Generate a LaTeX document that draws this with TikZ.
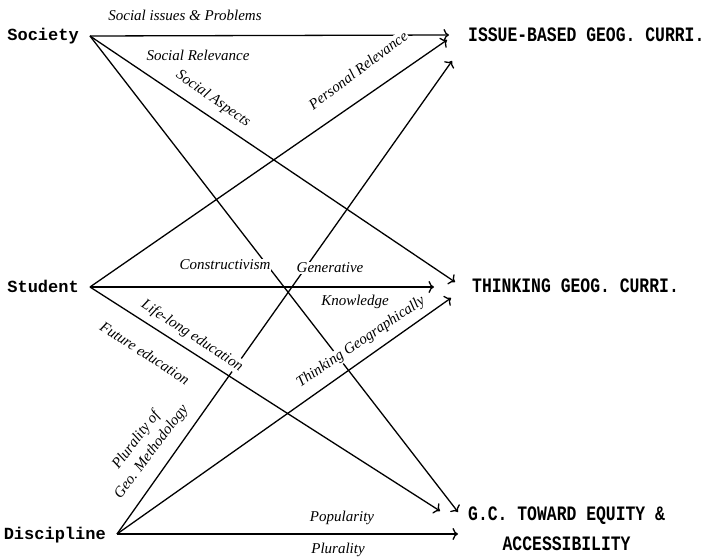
\documentclass[tikz,border=0pt]{standalone}
\usepackage{fontspec}
\setmainfont{Liberation Serif}
\newfontfamily\monob{Liberation Mono}
\usetikzlibrary{arrows.meta}
\begin{document}
\begin{tikzpicture}[x=1pt,y=-1pt,
  src/.style={font=\monob\bfseries\fontsize{17}{20}\selectfont, inner ysep=0pt, inner xsep=11pt, text height=10pt, text depth=0pt, anchor=east},
  tgt/.style={font=\monob\bfseries\fontsize{16.4}{24}\selectfont, inner sep=0pt, text height=12.5pt, text depth=0pt, anchor=west},
  lab/.style={font=\itshape\fontsize{15}{16}\selectfont, fill=white, inner sep=1pt},
  link/.style={line width=1.3pt, -{To[length=5.5pt,width=12pt]}},
]
\path[use as bounding box] (0,0) rectangle (710,559);

% sources
\node[src] (soc) at (90,36) {Society};
\node[src] (stu) at (90,287) {Student};
\node[src] (dis) at (117,534) {Discipline};

% targets
\node[tgt] (iss) at (468,35) {\scalebox{1}[1.25]{ISSUE-BASED GEOG. CURRI.}};
\node[tgt] (thk) at (472,286) {\scalebox{1}[1.25]{THINKING GEOG. CURRI.}};
\node[tgt, text height=, text depth=] (gc) at (468,529) {\scalebox{1}[1.25]{\begin{tabular}{@{}c@{}}G.C. TOWARD EQUITY \&\\ACCESSIBILITY\end{tabular}}};

% connectors
\draw[link] (soc.east) -- ([xshift=-19pt]iss.west);
\draw[link] (stu.east) -- ([shift={(-21,5)}]iss.west);
\draw[link] (dis.east) -- ([shift={(-16,26)}]iss.west);

\draw[link] (soc.east) -- ([shift={(-17,-4)}]thk.west);
\draw[link] (stu.east) -- ([shift={(-38,1)}]thk.west);
\draw[link] (dis.east) -- ([shift={(-21,12)}]thk.west);

\draw[link] (soc.east) -- ([shift={(-10,-17)}]gc.west);
\draw[link] (stu.east) -- ([shift={(-28,-18)}]gc.west);
\draw[link] (dis.east) -- ([shift={(-10,5)}]gc.west);

% labels
\node[lab] (l1) at (185,15) {Social issues \& Problems};
\node[lab] (l2) at (198,55) {Social Relevance};
\node[lab, rotate=-35] (l3) at (213,99) {Social Aspects};
\node[lab, rotate=37] (l4) at (358,70) {Personal Relevance};
\node[lab] (l5) at (225,265) {Constructivism};
\node[lab] (l6) at (330,268) {Generative};
\node[lab] (l7) at (355,302) {Knowledge};
\node[lab, rotate=-33] (l8) at (192,336) {Life-long education};
\node[lab, rotate=-33] (l9) at (145,353) {Future education};
\node[lab, rotate=34] (l10) at (361,342) {Thinking Geographically};
\node[lab, rotate=53, align=center, font=\itshape\fontsize{15}{19}\selectfont] (l11) at (144,446) {Plurality of\\Geo. Methodology};
\node[lab] (l12) at (342,518) {Popularity};
\node[lab] (l13) at (338,550) {Plurality};
\end{tikzpicture}
\end{document}
